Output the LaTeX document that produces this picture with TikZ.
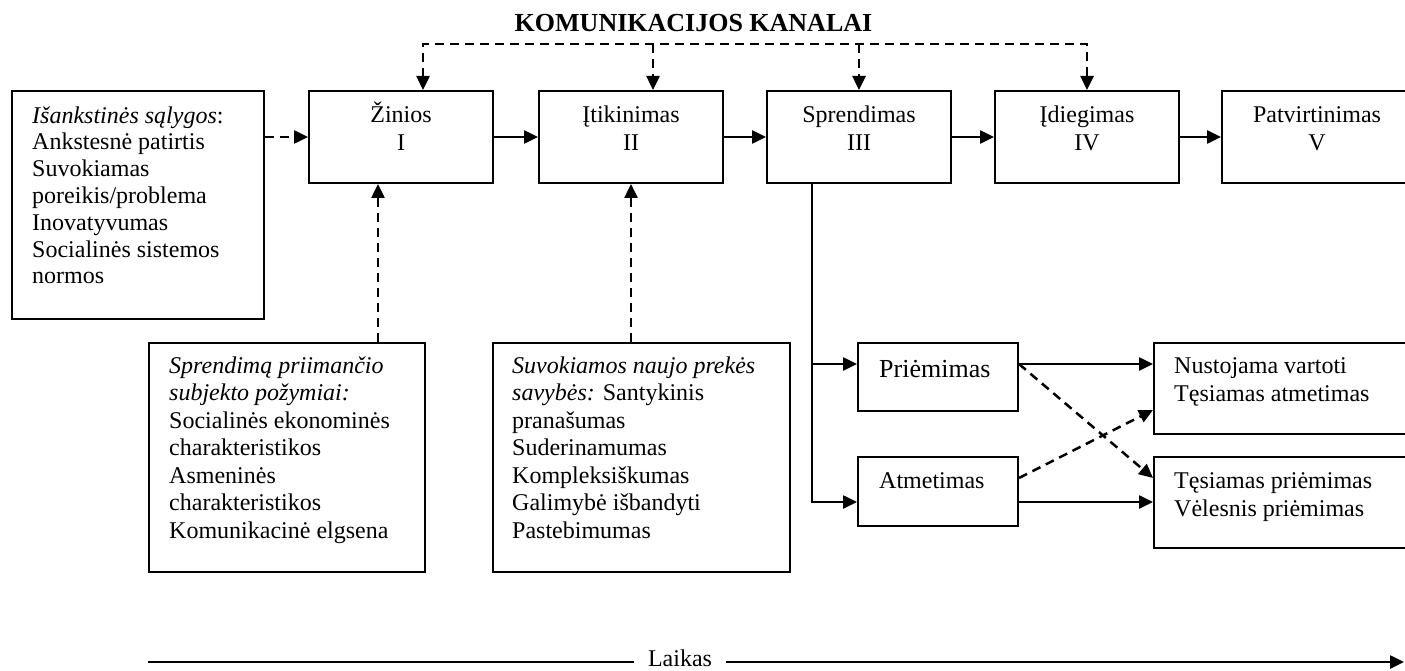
\documentclass[tikz,border=0pt]{standalone}
\usepackage{fontspec}
\setmainfont{Liberation Serif}
\usetikzlibrary{arrows.meta}

\begin{document}
\begin{tikzpicture}[
  x = 1pt, y = -1pt,
  box/.style = {draw, line width = 2pt, inner sep = 0pt, anchor = north west},
  txt/.style = {inner sep = 0pt, align = left, anchor = base west,
    font = \fontsize{24}{27.5}\selectfont},
  ctxt/.style = {txt, align = center, anchor = base},
  head/.style = {-{Triangle[length = 14pt, width = 13pt]}},
  heads/.style = {{Triangle[length = 14pt, width = 13pt]}-{Triangle[length = 14pt, width = 13pt]}},
  arr/.style = {line width = 2.5pt, head},
  dashln/.style = {line width = 2.5pt, dash pattern = on 9pt off 6pt}
]
  \useasboundingbox (0, 0) rectangle (1405, 671);
  \clip (0, 0) rectangle (1405, 671);

  \node[inner sep = 0pt, anchor = base, font = \fontsize{26}{30}\selectfont\bfseries]
  (kanalai) at (693.5, 32) {KOMUNIKACIJOS KANALAI};

  \foreach \nm/\xx/\ww/\ttl/\nr in {ziniai/308/184/Žinios/I,
    itikinimas/538/184/Įtikinimas/II, sprendimas/766/184/Sprendimas/III,
    idiegimas/994/184/Įdiegimas/IV, patvirtinimas/1221/190/Patvirtinimas/V} {
    \node[box, minimum width = \ww pt, minimum height = 92pt] (\nm) at (\xx, 90) {};
    \node[ctxt, font = \fontsize{24}{28}\selectfont] (\nm-txt)
    at ([shift = {(0, 61)}]\nm.north) {\ttl\\\nr};
  }

  \node[box, minimum width = 252pt, minimum height = 228pt] (salygos) at (11, 90) {};
  \node[txt, font = \fontsize{24}{26.8}\selectfont] (salygos-txt)
  at ([shift = {(21, 193.8)}]salygos.north west)
  {\textit{Išankstinės sąlygos}:\\Ankstesnė patirtis\\Suvokiamas\\poreikis/problema\\
    Inovatyvumas\\Socialinės sistemos\\normos};

  \node[box, minimum width = 276pt, minimum height = 229pt] (subjektas) at (148, 342) {};
  \node[txt] (subjektas-txt) at ([shift = {(21, 196)}]subjektas.north west)
  {\textit{Sprendimą priimančio}\\\textit{subjekto požymiai:}\\Socialinės ekonominės\\
    charakteristikos\\Asmeninės\\charakteristikos\\Komunikacinė elgsena};

  \node[box, minimum width = 297pt, minimum height = 229pt] (savybes) at (492, 342) {};
  \node[txt] (savybes-txt) at ([shift = {(20, 196)}]savybes.north west)
  {\textit{Suvokiamos naujo prekės}\\\textit{savybės:} Santykinis\\pranašumas\\
    Suderinamumas\\Kompleksiškumas\\Galimybė išbandyti\\Pastebimumas};

  \node[box, minimum width = 160pt, minimum height = 68pt] (priemimas) at (857, 342) {};
  \node[txt, font = \fontsize{26}{30}\selectfont] (priemimas-txt)
  at ([shift = {(22, 35)}]priemimas.north west) {Priėmimas};

  \node[box, minimum width = 160pt, minimum height = 69pt] (atmetimas) at (857, 456) {};
  \node[txt] (atmetimas-txt) at ([shift = {(22, 32)}]atmetimas.north west) {Atmetimas};

  \node[box, minimum width = 260pt, minimum height = 91pt] (nutraukimas) at (1153, 342) {};
  \node[txt, font = \fontsize{24}{28.5}\selectfont] (nutraukimas-txt)
  at ([shift = {(21, 59.5)}]nutraukimas.north west)
  {Nustojama vartoti\\Tęsiamas atmetimas};

  \node[box, minimum width = 260pt, minimum height = 91pt] (tesimas) at (1153, 456) {};
  \node[txt, font = \fontsize{24}{28.5}\selectfont] (tesimas-txt)
  at ([shift = {(21, 60.5)}]tesimas.north west)
  {Tęsiamas priėmimas\\Vėlesnis priėmimas};

  \node[inner ysep = 0pt, inner xsep = 14pt, anchor = base, text depth = 0pt,
    font = \fontsize{24}{27.5}\selectfont] (laikas) at (680, 666) {Laikas};

  \foreach \a/\b in {ziniai/itikinimas, itikinimas/sprendimas,
    sprendimas/idiegimas, idiegimas/patvirtinimas}
  \draw[arr] (\a.east) -- (\b.west);
  \draw[dashln, head] (salygos.east |- ziniai.west) -- (ziniai.west);

  \coordinate (k1) at (423, 44);
  \coordinate (k2) at (653, 44);
  \draw[dashln, heads] (k1 |- ziniai.north) -- (k1) -- (k1 -| idiegimas.north)
  -- (idiegimas.north);
  \draw[dashln, head] (k2) -- (k2 |- itikinimas.north);
  \draw[dashln, head] (k1 -| sprendimas.north) -- (sprendimas.north);

  \coordinate (u1) at (378, 342);
  \draw[dashln, head] (u1) -- (u1 |- ziniai.south);
  \draw[dashln, head] (itikinimas.south |- savybes.north) -- (itikinimas.south);

  \coordinate (b1) at (812, 364);
  \coordinate (b2) at (812, 502);
  \draw[arr] (b1 |- sprendimas.south) -- (b2) -- (b2 -| atmetimas.west);
  \draw[arr] (b1) -- (b1 -| priemimas.west);
  \draw[arr] (b1 -| priemimas.east) -- (b1 -| nutraukimas.west);
  \draw[arr] (b2 -| atmetimas.east) -- (b2 -| tesimas.west);

  \coordinate (d1) at (1153, 478);
  \coordinate (d2) at (1153, 410);
  \draw[dashln, head] (b1 -| priemimas.east) -- (d1);
  \draw[dashln, head] (atmetimas.east |- d1) -- (d2);

  \coordinate (t0) at (148, 662);
  \coordinate (t1) at (1404, 662);
  \draw[line width = 2.5pt] (t0) -- (laikas.west |- t0);
  \draw[arr] (laikas.east |- t0) -- (t1);
\end{tikzpicture}
\end{document}
